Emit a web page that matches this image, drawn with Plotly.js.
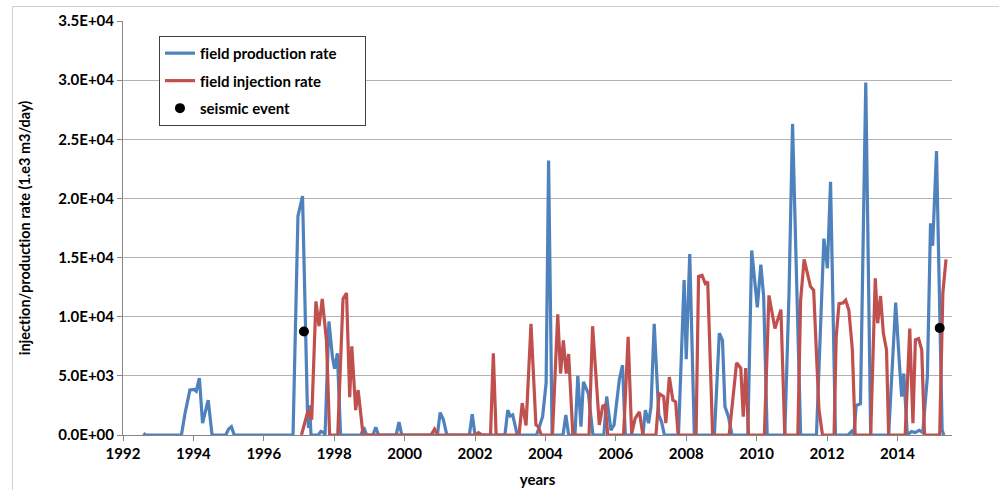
<!DOCTYPE html>
<html>
<head>
<meta charset="utf-8">
<script src="https://cdn.plot.ly/plotly-3.0.1.min.js"></script>
<style>
  html, body { margin: 0; padding: 0; background: #fff; }
  #frame { position: absolute; left: 12px; top: 6px; width: 990px; height: 490px;
           border-left: 1.5px solid #d0d0d0; border-top: 1.5px solid #d0d0d0; }
  #chart { position: absolute; left: 0; top: 0; width: 999px; height: 490px; }
  svg text { font-variant-ligatures: none; font-feature-settings: "liga" 0; }
</style>
</head>
<body>
<div id="frame"></div>
<div id="chart"></div>
<script>
// field production rate (decimal year, 1.e3 m3/day)
const prodYears = [1992.58,1992.64,1993.66,1993.76,1993.90,1994.02,1994.08,1994.17,1994.26,1994.42,1994.53,
  1994.92,1995.00,1995.08,1995.16,1996.83,1996.97,1997.03,1997.10,1997.24,1997.27,1997.30,1997.34,
  1997.55,1997.62,1997.70,1997.74,1997.85,1997.95,1998.01,1998.09,1998.18,
  1998.76,1998.84,1998.92,1999.10,1999.18,1999.26,1999.76,1999.84,1999.92,
  2000.93,2001.01,2001.10,2001.20,2001.84,2001.92,2002.00,
  2002.85,2002.93,2003.00,2003.07,2003.20,
  2003.75,2003.92,2004.02,2004.09,2004.19,2004.50,2004.58,2004.66,
  2004.84,2004.92,2005.01,2005.08,2005.22,2005.35,
  2005.66,2005.74,2005.86,2005.95,2006.10,2006.19,2006.27,
  2006.77,2006.84,2006.93,2007.00,2007.09,2007.22,2007.30,2007.38,
  2007.78,2007.94,2008.00,2008.10,2008.23,
  2008.80,2008.94,2009.03,2009.10,2009.20,2009.30,
  2009.75,2009.86,2010.02,2010.12,2010.20,2010.30,
  2010.80,2010.92,2011.02,2011.25,
  2011.70,2011.91,2012.01,2012.10,2012.24,
  2012.60,2012.70,2012.76,2012.83,2012.95,2013.10,2013.24,
  2013.75,2013.95,2014.05,2014.12,2014.18,2014.28,2014.40,2014.50,2014.62,2014.72,
  2014.85,2014.94,2015.00,2015.11,2015.27,2015.32];
const prodRate = [150,0,0,1800,3800,3850,3700,4800,1000,2950,0,
  0,500,700,0,0,18500,19200,20200,2000,600,2500,0,
  0,300,200,0,9600,6600,5600,6900,0,
  0,650,0,0,650,0,0,1100,0,
  0,1900,1300,0,0,1750,0,
  0,2100,1600,1700,0,
  0,1550,4400,23200,0,0,1700,0,
  0,5000,700,4500,3500,0,
  0,3250,400,850,4700,5900,0,
  0,2100,1000,2400,9400,1700,1100,0,
  0,13100,6400,15300,0,
  0,8600,8000,2400,1550,0,
  0,15600,10800,14400,11700,0,
  0,12000,26300,0,
  0,16600,14100,21400,0,
  0,300,0,2500,2650,29800,0,
  0,11200,6300,3250,5200,0,300,200,400,200,
  4900,17900,16000,24000,400,0];

// field injection rate
const injYears = [1997.07,1997.26,1997.36,1997.48,1997.57,1997.66,1997.78,1997.87,
  1998.10,1998.25,1998.35,1998.44,1998.50,1998.61,1998.68,1998.82,
  2000.75,2000.85,2000.95,2002.00,2002.10,2002.20,2002.44,2002.52,2002.60,
  2003.25,2003.34,2003.45,2003.59,2003.73,2003.80,2003.88,
  2004.20,2004.35,2004.43,2004.51,2004.59,2004.66,2004.78,
  2005.24,2005.34,2005.53,2005.63,2005.70,2005.77,
  2006.22,2006.35,2006.45,2006.55,2006.67,2006.77,
  2007.14,2007.23,2007.36,2007.42,2007.52,2007.62,2007.70,2007.77,
  2008.28,2008.35,2008.45,2008.54,2008.61,2008.75,
  2009.22,2009.43,2009.55,2009.62,2009.69,2009.77,
  2010.22,2010.35,2010.52,2010.69,2010.80,
  2011.17,2011.25,2011.35,2011.44,2011.53,2011.62,2011.77,2011.87,
  2012.20,2012.26,2012.34,2012.45,2012.53,2012.62,2012.72,2012.80,
  2013.24,2013.37,2013.44,2013.52,2013.60,2013.69,2013.75,
  2014.22,2014.35,2014.44,2014.51,2014.60,2014.69,2014.77,
  2015.20,2015.29,2015.38];
const injRate = [0,2100,1300,11300,9200,11500,8000,0,
  0,11500,12000,3200,7500,2100,3800,0,
  0,500,0,0,200,0,0,6900,0,
  0,2700,800,9400,850,700,0,
  0,10200,5200,8000,5200,6850,0,
  0,9200,850,2450,2550,0,
  0,8300,100,1400,1950,0,
  0,3500,3250,1000,4900,2950,2800,0,
  0,13400,13500,12800,12950,0,
  0,6100,5650,1550,5650,0,
  0,11800,9000,10600,0,
  0,11400,14850,13650,12550,12250,2150,0,
  0,8300,11100,11150,11400,10550,7200,0,
  0,13250,9450,11750,8600,7200,0,
  0,9000,1000,8050,8150,7200,0,
  0,12000,14850];

// seismic events
const eventYears = [1997.14, 2015.20];
const eventRate = [8750, 9050];

// axis ticks
const xTickVals = [1992,1994,1996,1998,2000,2002,2004,2006,2008,2010,2012,2014];
const yTickVals = [0,5000,10000,15000,20000,25000,30000,35000];
const yTickText = ["0.0E+00","5.0E+03","1.0E+04","1.5E+04","2.0E+04","2.5E+04","3.0E+04","3.5E+04"];

const fam = "Lato, 'Open Sans', sans-serif";

const traces = [
  {x: prodYears, y: prodRate, type: "scatter", mode: "lines",
   name: "<b>field production rate</b>&nbsp;&nbsp;&nbsp;&nbsp;&nbsp;&nbsp;",
   line: {color: "#4f81bd", width: 3.2}, legendgroup: "a"},
  {x: injYears, y: injRate, type: "scatter", mode: "lines", name: "<b>field injection rate</b>",
   line: {color: "#c0504d", width: 3.2}, legendgroup: "b"},
  {x: eventYears, y: eventRate, type: "scatter", mode: "markers", name: "<b>seismic event</b>",
   marker: {color: "#000", size: 10}, legendgroup: "c"}
];

const layout = {
  width: 999, height: 490,
  margin: {l: 123, r: 47, t: 21, b: 55},
  paper_bgcolor: "rgba(0,0,0,0)", plot_bgcolor: "rgba(0,0,0,0)",
  font: {family: fam, size: 15, color: "#000"},
  showlegend: true,
  legend: {x: 0.0434, y: 0.964, xanchor: "left", yanchor: "top",
           bordercolor: "#404040", borderwidth: 1, bgcolor: "#fff",
           traceorder: "grouped", tracegroupgap: 5,
           font: {family: fam, size: 15, color: "#000"}},
  xaxis: {range: [1992, 2015.55], tickvals: xTickVals, showgrid: false, zeroline: false,
          showline: true, linecolor: "#868686", linewidth: 1,
          ticks: "outside", ticklen: 5, tickcolor: "#868686",
          tickfont: {family: fam, size: 15, color: "#000", weight: "bold"},
          title: {text: "<b>years</b>", font: {family: fam, size: 15}, standoff: 13}},
  yaxis: {range: [0, 35000], tickvals: yTickVals, ticktext: yTickText,
          showgrid: true, gridcolor: "#b3b3b3", gridwidth: 1, zeroline: false,
          showline: true, linecolor: "#868686", linewidth: 1,
          ticks: "outside", ticklen: 5, tickcolor: "#868686",
          tickfont: {family: fam, size: 15, color: "#000", weight: "bold"},
          title: {text: "<b>injection/production rate (1.e3 m3/day)</b>",
                  font: {family: fam, size: 14.5}, standoff: 24}}
};

Plotly.newPlot("chart", traces, layout, {displayModeBar: false, staticPlot: true});
</script>
</body>
</html>
